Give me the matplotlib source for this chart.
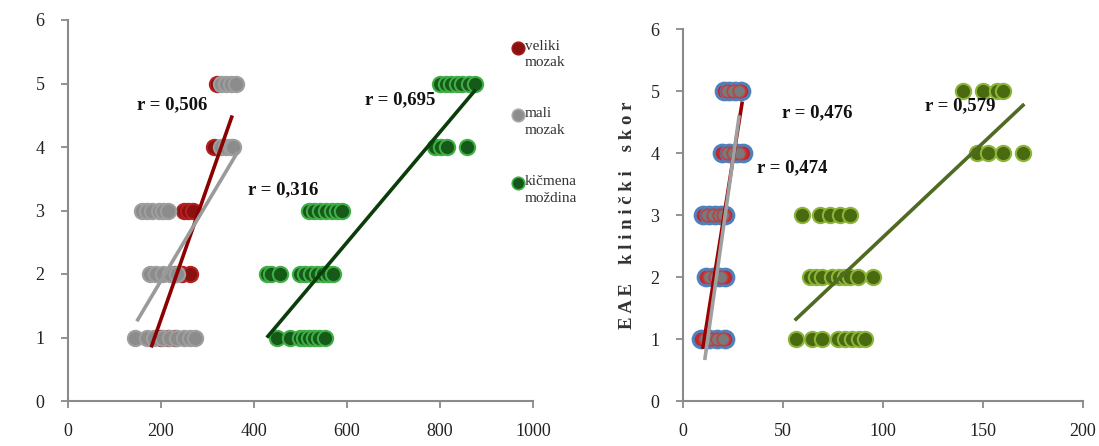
import matplotlib
matplotlib.use("Agg")
import matplotlib.pyplot as plt
from matplotlib.lines import Line2D

plt.rcParams['font.family'] = ['Liberation Serif', 'DejaVu Serif']

# ---------------- data: left chart ----------------
left_vm_x = [200, 215, 230, 230, 245, 262, 250, 258, 268, 314, 320]
left_vm_y = [1, 1, 1, 2, 2, 2, 3, 3, 3, 4, 5]
left_mm_x = [144, 170, 185, 205, 220, 235, 250, 262, 273,
             176, 190, 205, 220, 235,
             159, 170, 180, 195, 205, 215,
             330, 340, 350, 355,
             330, 340, 350, 361]
left_mm_y = [1] * 9 + [2] * 5 + [3] * 6 + [4] * 4 + [5] * 4
left_km_x = [449, 477, 498, 508, 518, 528, 540, 552,
             427, 437, 455, 498, 510, 522, 535, 548, 560, 569,
             518, 530, 542, 555, 567, 578, 590,
             790, 803, 814, 859,
             799, 812, 824, 836, 848, 862, 876]
left_km_y = [1] * 8 + [2] * 10 + [3] * 7 + [4] * 4 + [5] * 7

left_vm_trend_x = [180, 352]
left_vm_trend_y = [0.87, 4.47]
left_mm_trend_x = [150, 363]
left_mm_trend_y = [1.28, 3.90]
left_km_trend_x = [430, 874]
left_km_trend_y = [1.02, 4.88]
left_r_labels = ["r = 0,506", "r = 0,316", "r = 0,695"]

# ---------------- data: right chart ----------------
right_vm_x = [9, 13, 17, 21, 11.5, 15, 18, 21, 10, 13, 16, 19, 21,
              19.5, 23, 27, 30, 20.5, 23, 26, 29]
right_vm_y = [1] * 4 + [2] * 4 + [3] * 5 + [4] * 4 + [5] * 4
right_mm_x = [11, 14, 17, 20, 13, 16, 19, 12, 15, 18, 20,
              22, 25, 28, 22, 25, 28]
right_mm_y = [1] * 4 + [2] * 3 + [3] * 4 + [4] * 3 + [5] * 3
right_km_x = [56.5, 64.5, 69.5, 77.5, 81, 84.5, 88, 91,
              63.5, 66.5, 69.5, 74.5, 78, 81, 83.5, 87.5, 95,
              59.5, 68.5, 73.5, 78.5, 83.5,
              147, 152.5, 160, 170,
              140, 150, 157, 160]
right_km_y = [1] * 8 + [2] * 9 + [3] * 5 + [4] * 4 + [5] * 4

right_vm_trend_x = [10, 29.5]
right_vm_trend_y = [0.87, 4.80]
right_mm_trend_x = [11, 28]
right_mm_trend_y = [0.69, 4.58]
right_km_trend_x = [56.5, 170]
right_km_trend_y = [1.32, 4.77]
right_r_labels = ["r = 0,476", "r = 0,474", "r = 0,579"]

legend_labels = ["veliki\nmozak", "mali\nmozak", "kičmena\nmoždina"]
y_label = "E A E    k l i n i č k i    s k o r"

# ---------------- styling ----------------
W, H = 1099, 446
fig = plt.figure(figsize=(W / 100, H / 100), dpi=100)

ax1 = fig.add_axes([68 / W, 1 - 401 / H, (533 - 68) / W, (401 - 20) / H])
ax2 = fig.add_axes([683 / W, 1 - 401 / H, (1083 - 683) / W, (401 - 29) / H])

spine_c = '#8a8a8a'
for ax in (ax1, ax2):
    for s in ('top', 'right'):
        ax.spines[s].set_visible(False)
    for s in ('left', 'bottom'):
        ax.spines[s].set_color(spine_c)
        ax.spines[s].set_linewidth(1.5)
    ax.tick_params(direction='out', length=5, width=1.3, color=spine_c,
                   labelsize=13, labelcolor='#222222')
    ax.tick_params(axis='x', pad=11)
    ax.tick_params(axis='y', pad=12)
    ax.set_ylim(0, 6)
    ax.set_yticks(range(0, 7))

ax1.set_xlim(0, 1000)
ax1.set_xticks(range(0, 1001, 200))
ax2.set_xlim(0, 200)
ax2.set_xticks(range(0, 201, 50))

MS = 11

def glossy(ax, x, y, face, edge, ms=MS, mew=1.5, z=3):
    ax.plot(x, y, 'o', ls='none', ms=ms, mfc=face, mec=edge, mew=mew, zorder=z)

# left chart
glossy(ax1, left_vm_x, left_vm_y, '#8b1010', '#b52020')
glossy(ax1, left_mm_x, left_mm_y, '#8c8c8c', '#9e9e9e', z=4)
glossy(ax1, left_km_x, left_km_y, '#155a18', '#3fae46', z=5)
ax1.plot(left_vm_trend_x, left_vm_trend_y, color='#8b0000', lw=2.6, zorder=6)
ax1.plot(left_mm_trend_x, left_mm_trend_y, color='#9a9a9a', lw=2.6, zorder=6)
ax1.plot(left_km_trend_x, left_km_trend_y, color='#0a3d0a', lw=2.6, zorder=6)

tk = dict(fontsize=13.5, fontweight='bold', ha='center', va='center', color='#111111', zorder=8)
ax1.text(223, 4.66, left_r_labels[0], **tk)
ax1.text(462, 3.32, left_r_labels[1], **tk)
ax1.text(715, 4.74, left_r_labels[2], **tk)

# right chart
glossy(ax2, right_vm_x, right_vm_y, '#c0282d', '#4f81bd', ms=MS + 1, mew=2.2)
glossy(ax2, right_mm_x, right_mm_y, '#7a7a7a', '#c04040', ms=MS - 2, mew=1.2, z=4)
glossy(ax2, right_km_x, right_km_y, '#4a6a10', '#8cb43a', z=5)
ax2.plot(right_vm_trend_x, right_vm_trend_y, color='#9b0000', lw=2.6, zorder=6)
ax2.plot(right_mm_trend_x, right_mm_trend_y, color='#a0a0a0', lw=2.6, zorder=6)
ax2.plot(right_km_trend_x, right_km_trend_y, color='#4f6b22', lw=2.6, zorder=6)

ax2.text(67, 4.65, right_r_labels[0], **tk)
ax2.text(54.5, 3.76, right_r_labels[1], **tk)
ax2.text(138.5, 4.77, right_r_labels[2], **tk)

# legend (manual, in figure pixels)
leg_faces = ['#8b1010', '#8c8c8c', '#17561a']
leg_edges = ['#a01a1a', '#a8a8a8', '#3fae46']
leg_rows = [48, 115, 183]
for lab, fc, ec, yy in zip(legend_labels, leg_faces, leg_edges, leg_rows):
    fig.add_artist(Line2D([518 / W], [1 - yy / H], marker='o', ls='none', ms=9,
                          mfc=fc, mec=ec, mew=1.2, transform=fig.transFigure))
    fig.text(525 / W, 1 - (yy - 8) / H, lab, ha='left', va='top', fontsize=11,
             color='#333333', linespacing=1.35)

fig.text(627 / W, 1 - 215 / H, y_label, rotation=90, ha='center', va='center',
         fontsize=13.5, fontweight='bold', color='#333333')

fig.savefig('out.png', dpi=100)
